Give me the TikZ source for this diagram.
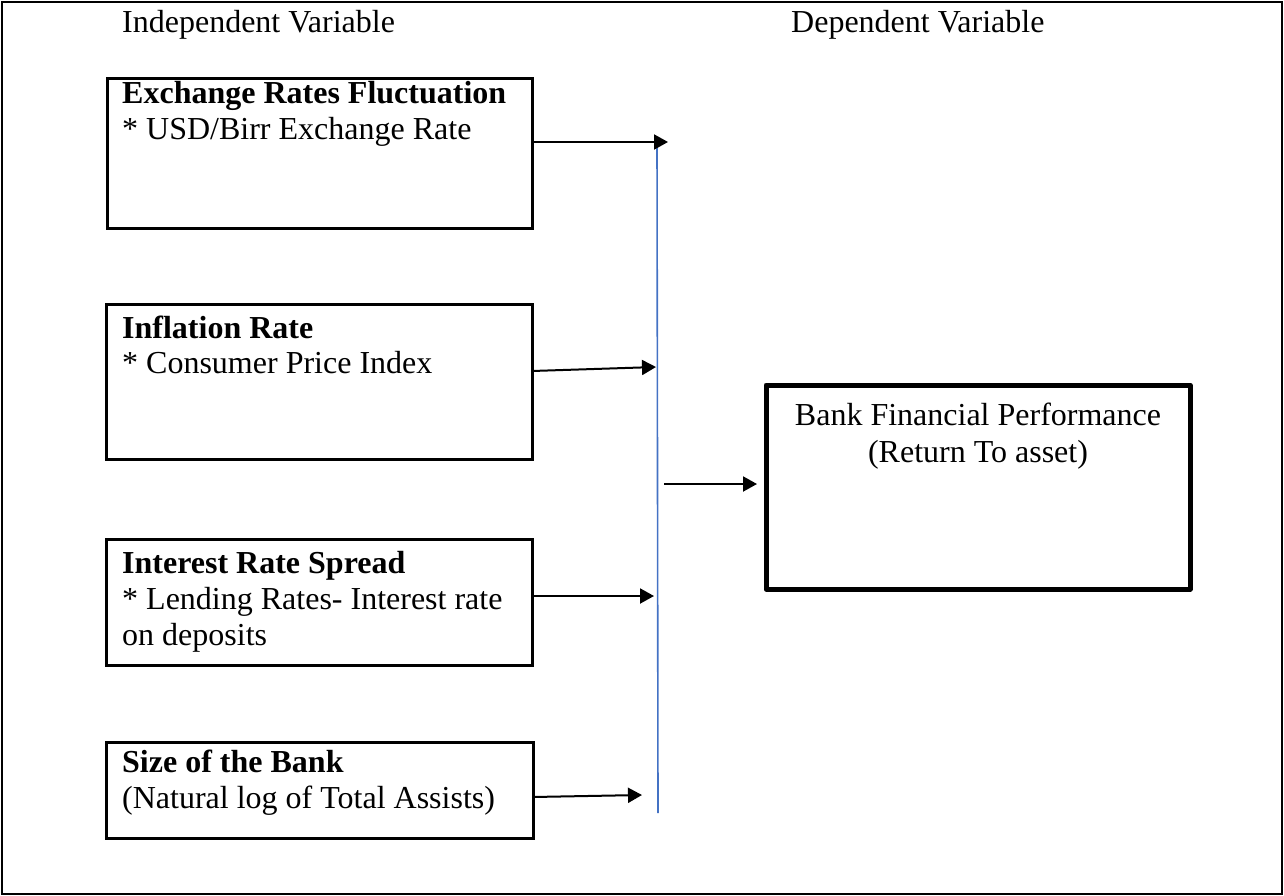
\documentclass[tikz,border=0pt]{standalone}
\usepackage{fontspec}
\setmainfont{Liberation Serif}
\usetikzlibrary{arrows.meta}
\definecolor{wordblue}{RGB}{68,114,196}
\begin{document}
\begin{tikzpicture}[x=1pt,y=-1pt,
  txt/.style={anchor=base west,inner sep=0pt,font=\fontsize{32}{36}\selectfont},
  ctxt/.style={anchor=base,inner sep=0pt,font=\fontsize{32}{36}\selectfont},
  varbox/.style={draw,line width=3pt,outer sep=0pt,inner sep=0pt,anchor=north west},
  depbox/.style={draw,line width=5pt,outer sep=0pt,inner sep=0pt,anchor=north west,line join=round},
  arr/.style={line width=2pt,-{Triangle[length=14pt,width=15pt]}},
  bluel/.style={draw=wordblue,line width=1.6pt}]
\useasboundingbox (0,0) rectangle (1284,896);
\node[draw,line width=2.5pt,outer sep=0pt,inner sep=0pt,anchor=north west,minimum width=1280pt,minimum height=892pt] (frame) at (2,2) {};

\node[txt] (iv) at (122,33) {Independent Variable};
\node[txt] (dv) at (791,33) {Dependent Variable};

% variable boxes
\node[varbox,minimum width=425pt,minimum height=149pt] (b1) at (107,79) {};
\node[txt,font=\fontsize{32}{36}\selectfont\bfseries] (t1a) at (122,104) {Exchange Rates Fluctuation};
\node[txt] (t1b) at (122,140) {* USD/Birr Exchange Rate};

\node[varbox,minimum width=426pt,minimum height=155pt] (b2) at (106,304) {};
\node[txt,font=\fontsize{32}{36}\selectfont\bfseries] (t2a) at (122,338) {Inflation Rate};
\node[txt] (t2b) at (122,373) {* Consumer Price Index};

\node[varbox,minimum width=426pt,minimum height=126pt] (b3) at (106,539) {};
\node[txt,font=\fontsize{32}{36}\selectfont\bfseries] (t3a) at (122,573) {Interest Rate Spread};
\node[txt] (t3b) at (122,609) {* Lending Rates- Interest rate};
\node[txt] (t3c) at (122,645) {on deposits};

\node[varbox,minimum width=427pt,minimum height=96pt] (b4) at (106,742) {};
\node[txt,font=\fontsize{32}{36}\selectfont\bfseries] (t4a) at (122,772) {Size of the Bank};
\node[txt] (t4b) at (122,808) {(Natural log of Total Assists)};

% dependent box
\node[depbox,minimum width=424pt,minimum height=204pt] (b5) at (766,385) {};
\node[ctxt] (t5a) at (978,425) {Bank Financial Performance};
\node[ctxt] (t5b) at (978,462) {(Return To asset)};

% blue collector line
\coordinate (bt) at (657,142);
\coordinate (bb) at (658,813);
\draw[bluel] (bt) -- (bb);

% arrows
\coordinate (e1) at (668,142);
\coordinate (e2) at (656,367);
\coordinate (e3) at (654,596);
\coordinate (e4) at (642,795);
\coordinate (s5) at (664,484);
\draw[arr] ([yshift=11.5pt]b1.east) -- (e1);
\draw[arr] ([yshift=10.5pt]b2.east) -- (e2);
\draw[arr] ([yshift=6pt]b3.east) -- (e3);
\draw[arr] ([yshift=-7pt]b4.east) -- (e4);
\draw[arr,shorten >=9pt] (s5) -- ([yshift=3pt]b5.west);
\end{tikzpicture}
\end{document}
